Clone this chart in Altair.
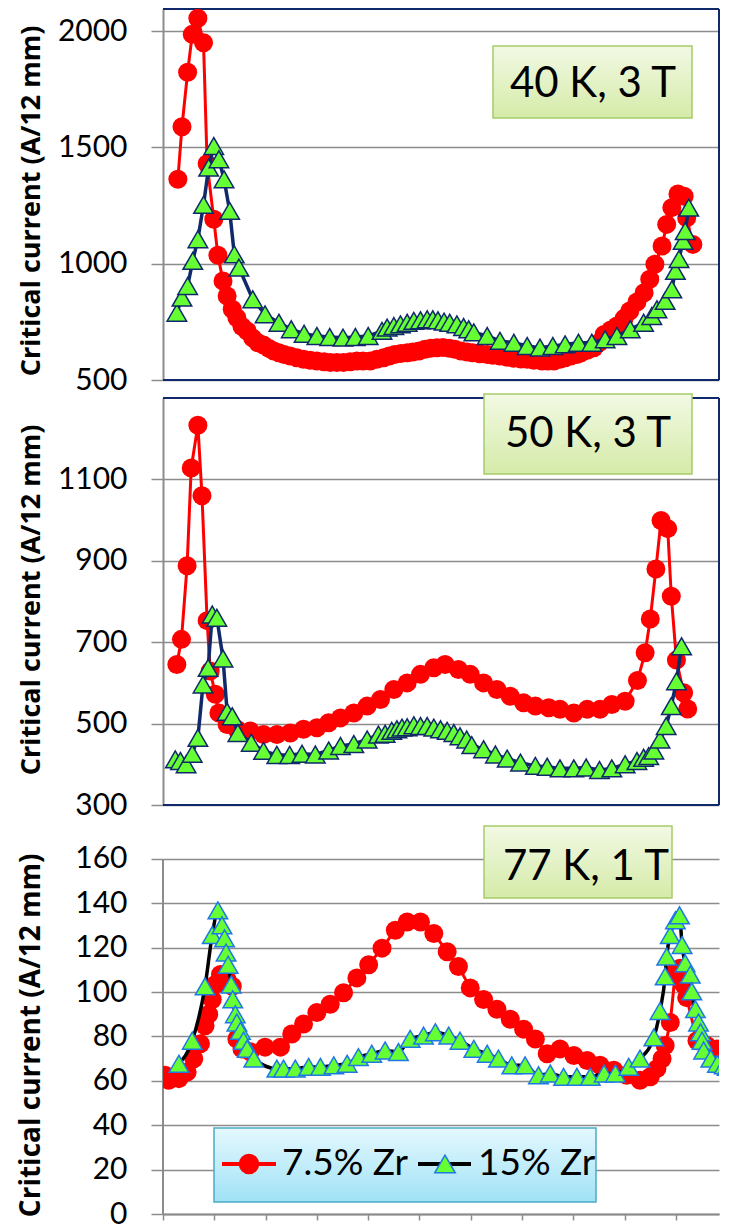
import altair as alt
import pandas as pd

series_names = ["7.5% Zr", "15% Zr"]
panel_labels = ["40 K, 3 T", "50 K, 3 T", "77 K, 1 T"]
y_title = "Critical current (A/12 mm)"

# ---------- Panel 1: 40 K, 3 T ----------
p1_red_x = [2.9, 3.7, 4.8, 5.7, 6.8, 7.9, 8.6, 9.9, 10.7, 11.7, 12.5, 13.5, 14.4, 15.4, 16.4, 17.5, 18.5, 19.6,
            20.7, 21.6, 22.6, 23.6, 24.8, 26.1, 27.4, 28.7, 30.0, 31.4, 32.6, 33.9, 35.2, 36.5, 37.8, 39.0, 40.4,
            41.7, 43.0, 44.1, 45.2, 46.4, 47.6, 48.7, 49.9, 51.1, 52.2, 53.4, 54.6, 55.8, 56.9, 58.1, 59.3, 60.4,
            61.8, 63.2, 64.3, 65.7, 67.1, 68.4, 69.8, 71.0, 72.3, 73.9, 75.0, 76.2, 77.4, 78.4, 79.5, 80.7, 81.5,
            82.7, 84.0, 85.0, 86.0, 87.3, 88.5, 89.9, 91.0, 92.4, 93.8, 94.9, 95.9, 97.3, 98.2, 99.2, 100.4, 101.6,
            102.1, 103.3]
p1_red_y = [1363, 1589, 1823, 1986, 2055, 1950, 1430, 1191, 1036, 926, 861, 804, 768, 730, 711, 680, 660, 650,
            635, 625, 617, 610, 603, 596, 589, 585, 582, 578, 575, 575, 575, 578, 582, 582, 582, 589, 596, 603,
            610, 614, 617, 620, 625, 632, 636, 639, 640, 636, 632, 625, 620, 617, 613, 610, 606, 603, 598, 594,
            590, 589, 585, 582, 582, 582, 589, 596, 603, 610, 617, 628, 639, 660, 696, 715, 732, 765, 797, 835,
            875, 933, 998, 1076, 1169, 1241, 1300, 1290, 1197, 1083]
p1_grn_x = [2.7, 3.7, 4.8, 5.8, 6.8, 7.9, 8.9, 9.9, 10.9, 11.9, 13.0, 13.9, 14.8, 17.5, 19.9, 22.6, 25.0, 27.5,
            30.0, 32.5, 35.1, 37.5, 40.0, 42.7, 43.7, 45.0, 46.3, 47.6, 48.9, 50.2, 51.5, 52.6, 53.6, 54.8, 55.9,
            57.3, 58.6, 59.6, 60.6, 63.2, 65.7, 68.4, 71.0, 73.5, 76.0, 78.4, 81.0, 83.6, 86.2, 88.5, 91.1, 93.7,
            95.3, 96.3, 97.9, 99.2, 99.9, 100.6, 101.4, 101.8, 102.5]
p1_grn_y = [789, 854, 904, 1012, 1105, 1253, 1413, 1506, 1449, 1363, 1227, 1040, 983, 847, 782, 746, 718, 699,
            689, 685, 682, 685, 689, 711, 725, 732, 739, 746, 754, 757, 761, 761, 757, 751, 746, 739, 728, 718,
            705, 689, 668, 660, 646, 639, 646, 653, 660, 660, 675, 689, 718, 746, 775, 804, 840, 890, 969, 1020,
            1098, 1140, 1241]

# ---------- Panel 2: 50 K, 3 T ----------
p2_red_x = [2.7, 3.6, 4.7, 5.5, 6.8, 7.6, 8.6, 9.2, 10.2, 10.9, 12.5, 14.4, 17.0, 19.6, 22.2, 24.8, 27.4, 30.0,
            32.3, 34.6, 37.2, 39.8, 42.4, 45.0, 47.6, 50.2, 52.8, 55.0, 57.6, 59.9, 62.5, 65.1, 67.7, 70.3, 72.6,
            75.2, 77.4, 80.1, 82.7, 85.2, 87.5, 90.1, 92.5, 94.0, 95.0, 96.1, 97.1, 98.4, 99.1, 100.1, 101.5, 102.3]
p2_red_y = [645, 707, 888, 1128, 1233, 1060, 753, 629, 572, 526, 498, 486, 482, 473, 473, 477, 486, 490, 502,
            514, 526, 543, 559, 584, 600, 621, 637, 645, 633, 621, 600, 584, 567, 551, 543, 539, 535, 526, 535,
            535, 547, 555, 606, 674, 757, 880, 999, 979, 813, 656, 576, 536]
p2_grn_x = [2.4, 3.4, 4.5, 5.7, 6.8, 7.8, 8.8, 9.6, 10.5, 11.7, 12.5, 13.5, 14.6, 17.2, 19.6, 22.2, 24.7, 27.1,
            29.7, 32.3, 34.6, 37.2, 39.8, 42.0, 43.3, 44.6, 45.6, 46.6, 47.6, 48.9, 50.2, 51.5, 52.8, 54.1, 55.4,
            56.7, 57.9, 59.2, 60.2, 62.5, 64.8, 67.1, 69.7, 72.6, 74.9, 77.4, 80.1, 82.5, 85.1, 87.5, 90.1, 92.4,
            93.7, 94.7, 95.7, 96.9, 98.1, 99.1, 100.1, 101.1]
p2_grn_y = [412, 408, 400, 426, 465, 596, 637, 768, 760, 660, 529, 518, 477, 453, 433, 423, 423, 426, 424, 434,
            445, 450, 461, 473, 475, 482, 486, 490, 491, 496, 494, 494, 490, 486, 482, 477, 469, 461, 447, 437,
            424, 414, 404, 396, 394, 390, 390, 392, 386, 390, 400, 408, 416, 420, 434, 461, 494, 543, 604, 690]

# ---------- Panel 3: 77 K, 1 T ----------
p3_red_x = [0.4, 1.1, 3.1, 4.7, 6.0, 7.3, 8.2, 8.9, 9.6, 10.2, 11.2, 12.5, 13.5, 14.4, 15.4, 17.0, 19.9, 22.9,
            25.1, 27.4, 30.0, 32.6, 35.2, 37.8, 40.1, 42.7, 45.3, 47.6, 50.2, 52.8, 55.4, 57.6, 59.9, 62.5, 65.1,
            67.7, 70.3, 72.6, 74.9, 77.4, 80.1, 82.7, 85.2, 87.9, 90.4, 93.0, 95.0, 96.3, 97.3, 97.9, 98.9, 99.9,
            100.8, 101.5, 102.1, 104.1, 106.0, 107.9, 109.9]
p3_red_y = [62.5, 60.3, 61, 64, 70, 76.7, 84.8, 90, 96.7, 103.4, 107.9, 105.6, 102.6, 78.9, 74.4, 73.1, 75.2,
            75.2, 81.1, 85.6, 90.8, 94.5, 99.7, 106.4, 112.3, 119.8, 127.9, 131.6, 131.6, 126.4, 118.2, 111.5,
            101.9, 96.7, 92.3, 87.8, 83.3, 78.9, 72.2, 74.4, 71.4, 69.2, 67, 64.8, 62.5, 60.3, 61.8, 65.5, 70,
            75.9, 86.3, 109.3, 110.8, 103.4, 97.5, 78.1, 75.9, 74.4, 71.4]
p3_grn_x = [3.1, 5.7, 8.2, 9.6, 10.7, 11.5, 12.0, 12.3, 12.7, 13.3, 13.6, 14.1, 14.4, 15.1, 15.7, 16.4, 17.7,
            22.2, 23.5, 25.8, 28.4, 30.7, 33.3, 35.9, 38.1, 40.7, 43.3, 45.9, 48.2, 50.8, 53.1, 55.7, 57.9, 60.6,
            63.2, 65.4, 68.0, 70.6, 73.2, 75.5, 78.1, 80.7, 83.3, 86.0, 88.2, 90.8, 93.0, 95.7, 96.9, 97.9, 98.2,
            98.9, 99.9, 100.7, 101.2, 101.8, 102.8, 103.1, 103.8, 104.4, 104.8, 105.1, 105.4, 106.8, 108.1, 109.4,
            110.0]
p3_grn_y = [67.7, 78.1, 102.6, 125.7, 136.8, 130.1, 124.2, 117.8, 112.3, 103.4, 96.7, 90, 86.3, 82.6, 78.1,
            74.4, 70, 65.5, 65.5, 65.5, 66.3, 66.3, 67, 67.7, 70.7, 72.2, 73.7, 73, 78.9, 80.4, 81.9, 80.4, 78.1,
            74.4, 72.2, 70, 67, 67, 62.5, 63.3, 61.8, 61.8, 61.8, 63.3, 63.3, 66.3, 70, 79.6, 91.5, 107.1, 116,
            125.7, 132.4, 134.6, 121.2, 113, 107.9, 100.4, 92.3, 86.3, 81.9, 78.1, 73.7, 70, 67.7, 67, 66.3]

p1_ticks = [500, 1000, 1500, 2000]
p2_ticks = [300, 500, 700, 900, 1100]
p3_ticks = [0, 20, 40, 60, 80, 100, 120, 140, 160]
x_ticks = list(range(0, 101, 10))

# ---------- styling ----------
RED = "#ff0000"
GREEN = "#66ff33"
NAVY = "#10296b"
BLUE = "#1f78e6"
GRID = "#8c8c8c"
PLOT_W = 556
X_DOMAIN = [0, 108.4]

box_fill = {"gradient": "linear", "x1": 0, "y1": 0, "x2": 0, "y2": 1,
            "stops": [{"offset": 0, "color": "#f2f9e4"}, {"offset": 1, "color": "#d5eba8"}]}
legend_fill = {"gradient": "linear", "x1": 0, "y1": 0, "x2": 0, "y2": 1,
               "stops": [{"offset": 0, "color": "#e4f8fe"}, {"offset": 1, "color": "#a0e2f6"}]}


def sdf(xs, ys):
    return pd.DataFrame({"x": xs, "y": ys, "i": list(range(len(xs)))})


def y_axis(values, title_size, title_y, **kw):
    return alt.Axis(values=values, format="d", grid=True, gridColor=GRID, gridWidth=1.5,
                    domainColor=GRID, domainWidth=2, tickColor=GRID, tickWidth=1.5, tickSize=12,
                    labelFont="Lato", labelFontSize=30, labelColor="black", labelPadding=24,
                    labelFlush=False, labelOverlap=False,
                    title=y_title, titleFont="Open Sans", titleFontSize=title_size,
                    titleFontWeight="bold", titleColor="black", titleAngle=270, titleX=-132,
                    titleBaseline="middle", titleAlign="right", titleY=title_y, **kw)


def make_panel(rx, ry, gx, gy, ydom, X, Y, line2_color, tri_stroke, label, box, text_xy,
               framed, smooth, clip):
    layers = []
    if framed:
        layers.append(alt.Chart(pd.DataFrame({"y": ydom})).mark_rule(color=NAVY, strokeWidth=2)
                      .encode(y=Y))
        layers.append(alt.Chart(pd.DataFrame({"x": [X_DOMAIN[1]]})).mark_rule(color=NAVY, strokeWidth=2)
                      .encode(x=X))
    red = alt.Chart(sdf(rx, ry))
    grn = alt.Chart(sdf(gx, gy))
    layers.append(red.mark_line(color=RED, strokeWidth=3, clip=clip).encode(x=X, y=Y, order="i:Q"))
    layers.append(red.mark_point(shape="circle", filled=True, color=RED, size=361, opacity=1, clip=clip)
                  .encode(x=X, y=Y))
    layers.append(grn.mark_line(color=line2_color, strokeWidth=3.5, clip=clip,
                                interpolate="monotone" if smooth else "linear")
                  .encode(x=X, y=Y, order="i:Q"))
    layers.append(grn.mark_point(shape="triangle-up", filled=True, fill=GREEN, stroke=tri_stroke,
                                 strokeWidth=1.5, size=380, opacity=1, clip=clip)
                  .encode(x=X, y=Y))
    lab = alt.Chart(pd.DataFrame({"label": [label]}))
    layers.append(lab.mark_rect(fill=box_fill, stroke="#a6cb6b", strokeWidth=1.5)
                  .encode(x=alt.value(box[0]), x2=alt.value(box[1]), y=alt.value(box[2]), y2=alt.value(box[3])))
    layers.append(lab.mark_text(font="Lato", fontSize=42, color="black", align="center", baseline="middle")
                  .encode(x=alt.value(text_xy[0]), y=alt.value(text_xy[1]), text="label:N"))
    return layers


xscale = alt.Scale(domain=X_DOMAIN, nice=False, zero=False)
X_hidden = alt.X("x:Q", scale=xscale, axis=None)
X_shown = alt.X("x:Q", scale=xscale,
                axis=alt.Axis(values=x_ticks, labels=False, grid=False, domainColor=GRID, domainWidth=2,
                              tickColor=GRID, tickWidth=1.5, tickSize=6, title=""))

# Panel 1
d1 = [500, 2095]
Y1 = alt.Y("y:Q", scale=alt.Scale(domain=d1, nice=False, zero=False), axis=y_axis(p1_ticks, 27, 16))
p1 = alt.layer(*make_panel(p1_red_x, p1_red_y, p1_grn_x, p1_grn_y, d1, X_hidden, Y1, NAVY, NAVY,
                           panel_labels[0], (330, 529, 37, 109), (430, 75), True, False, False)
               ).properties(width=PLOT_W, height=371)

# Panel 2
d2 = [300, 1300]
Y2 = alt.Y("y:Q", scale=alt.Scale(domain=d2, nice=False, zero=False), axis=y_axis(p2_ticks, 27, 26))
p2 = alt.layer(*make_panel(p2_red_x, p2_red_y, p2_grn_x, p2_grn_y, d2, X_hidden, Y2, NAVY, NAVY,
                           panel_labels[1], (321, 529, -4, 76), (425, 36), True, False, False)
               ).properties(width=PLOT_W, height=407)

# Panel 3
d3 = [0, 176.2]
Y3 = alt.Y("y:Q", scale=alt.Scale(domain=d3, nice=False, zero=False),
           axis=y_axis(p3_ticks, 28, 30, domain=False))
p3_layers = make_panel(p3_red_x, p3_red_y, p3_grn_x, p3_grn_y, d3, X_shown, Y3, "black", BLUE,
                       panel_labels[2], (321, 509, 3, 75), (423, 44), False, True, True)
axis_line = alt.Chart(pd.DataFrame({"x": [0], "y": [0], "y2": [160]})).mark_rule(
    color=GRID, strokeWidth=2).encode(x=X_shown, y=Y3, y2="y2:Q")
p3_layers.insert(0, axis_line)

leg1 = alt.Chart(pd.DataFrame({"name": [series_names[0]]}))
leg2 = alt.Chart(pd.DataFrame({"name": [series_names[1]]}))
LY = 341
legend_layers = [
    leg1.mark_rect(fill=legend_fill, stroke="#4bacc6", strokeWidth=1.5).encode(
        x=alt.value(51), x2=alt.value(433), y=alt.value(305), y2=alt.value(379)),
    leg1.mark_rule(color=RED, strokeWidth=4).encode(x=alt.value(59), x2=alt.value(113), y=alt.value(LY)),
    leg1.mark_point(shape="circle", filled=True, color=RED, size=420, opacity=1).encode(
        x=alt.value(86), y=alt.value(LY)),
    leg1.mark_text(font="Lato", fontSize=37, color="black", align="left", baseline="middle").encode(
        x=alt.value(119), y=alt.value(LY), text="name:N"),
    leg2.mark_rule(color="black", strokeWidth=4).encode(x=alt.value(255), x2=alt.value(308), y=alt.value(LY)),
    leg2.mark_point(shape="triangle-up", filled=True, fill=GREEN, stroke=BLUE, strokeWidth=1.5, size=420,
                    opacity=1).encode(x=alt.value(282), y=alt.value(LY)),
    leg2.mark_text(font="Lato", fontSize=37, color="black", align="left", baseline="middle").encode(
        x=alt.value(315), y=alt.value(LY), text="name:N"),
]
p3 = alt.layer(*(p3_layers + legend_layers)).properties(width=PLOT_W, height=391)

chart = alt.vconcat(p1, p2, p3, spacing=18, bounds="flush").properties(
    padding={"left": 9, "top": 0, "right": 0, "bottom": 0}, background="white"
).configure_view(strokeWidth=0)

chart.save("out.html", embed_options={"renderer": "svg", "actions": False})
